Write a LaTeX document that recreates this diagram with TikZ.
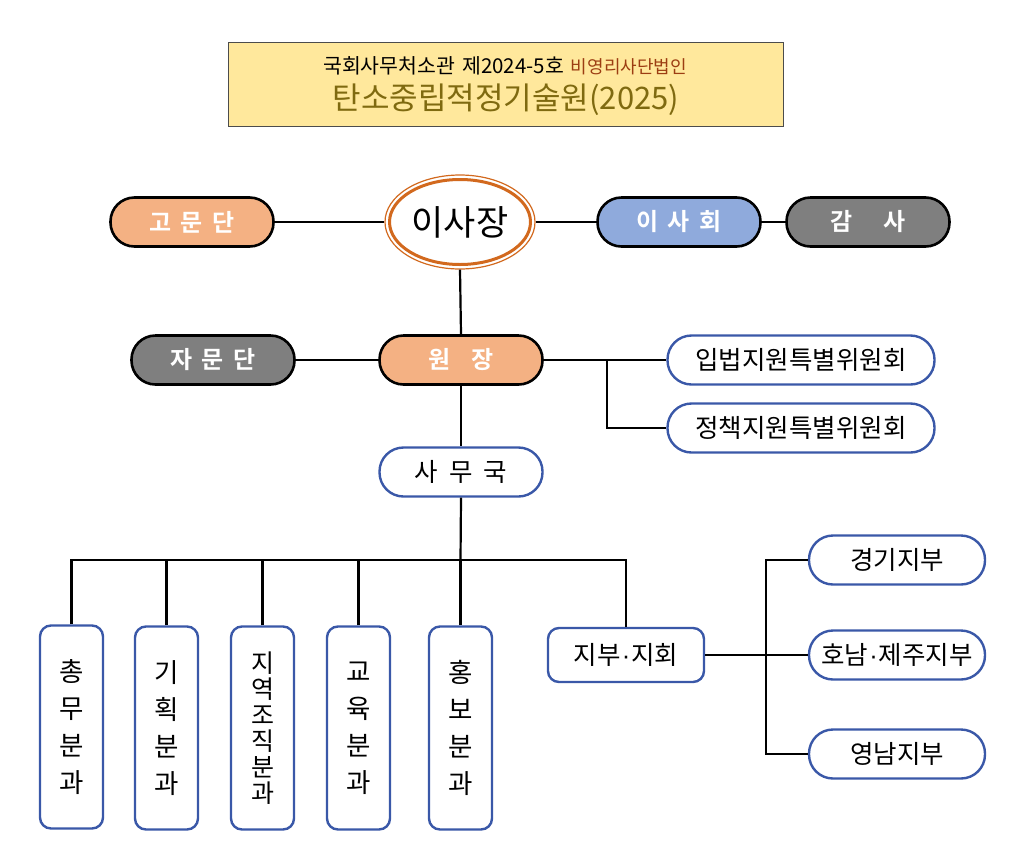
\documentclass[tikz,border=0pt]{standalone}
\usepackage{fontspec}
\setmainfont{Noto Sans CJK KR}[BoldFont={Noto Sans CJK KR Bold}]
\newfontfamily\dotfont{Liberation Sans}
\usetikzlibrary{positioning,shapes.geometric}
\definecolor{bluebd}{HTML}{3A58A8}
\definecolor{orfill}{HTML}{F4B183}
\definecolor{grfill}{HTML}{7F7F7F}
\definecolor{blfill}{HTML}{8FAADC}
\definecolor{orline}{HTML}{D2691E}
\definecolor{ttlfill}{HTML}{FFE89C}
\definecolor{ttlred}{HTML}{9C3D12}
\definecolor{ttlolive}{HTML}{7F6A10}
\newcommand{\mdot}{{\dotfont\kern1pt·\kern1pt}}
\tikzset{
  pillbox/.style={draw=black, line width=2.6pt, rounded corners=24pt, minimum width=163pt, minimum height=49pt, inner sep=0pt, text=white, font=\fontsize{24}{28}\selectfont\bfseries},
  bluepill/.style={draw=bluebd, line width=2.4pt, fill=white, rounded corners=24pt, minimum height=49pt, inner sep=0pt, font=\fontsize{25.5}{28}\selectfont},
  vbox/.style={draw=bluebd, line width=2.4pt, fill=white, rounded corners=11pt, minimum width=63pt, minimum height=203pt, inner sep=0pt, align=center, font=\fontsize{26.5}{37}\selectfont},
  conn/.style={line width=2.2pt, black}
}
\begin{document}
\begin{tikzpicture}[x=1pt,y=-1pt]
\useasboundingbox (0,0) rectangle (1024,841);
% title
\node[draw=black!70, line width=1pt, fill=ttlfill, minimum width=555pt, minimum height=84pt, inner sep=0pt] (title) at (505.5,84) {};
\node[font=\fontsize{20.5}{22}\selectfont, inner sep=0pt] (t1) at (505,66) {국회사무처소관\hspace{7pt}제2024-5호\hspace{7pt}{\color{ttlred}\fontsize{18}{20}\selectfont 비영리사단법인}};
\node[font=\fontsize{31}{34}\selectfont, text=ttlolive, inner sep=0pt] (t2) at (506,100) {탄소중립적정기술원(2025)};

% chairman ellipse
\node[ellipse, draw=orline, line width=1.2pt, minimum width=150pt, minimum height=94pt, inner sep=0pt] (boss) at (460,222) {};
\node[ellipse, draw=orline, line width=3pt, minimum width=141pt, minimum height=85pt, inner sep=0pt, font=\fontsize{35}{40}\selectfont] (bossin) at (460,222) {이사장};

\node[pillbox, fill=orfill] (gomun) at (192,222) {고\hspace{9pt}문\hspace{9pt}단};
\node[pillbox, fill=blfill] (isa) at (679,222) {이\hspace{9pt}사\hspace{9pt}회};
\node[pillbox, fill=grfill] (gamsa) at (868,222) {감\hspace{30pt}사};

\node[pillbox, fill=grfill] (jamun) at (213,360) {자\hspace{9pt}문\hspace{9pt}단};
\node[pillbox, fill=orfill] (won) at (461,360) {원\hspace{21pt}장};

\node[bluepill, minimum width=267pt] (ipbeop) at (801,360) {입법지원특별위원회};
\node[bluepill, minimum width=267pt] (jeong) at (801,428) {정책지원특별위원회};

\node[bluepill, minimum width=163pt] (samu) at (461,472) {사\hspace{11pt}무\hspace{11pt}국};

% bottom vertical boxes
\node[vbox] (b1) at (71.5,727) {총\\무\\분\\과};
\node[vbox] (b2) at (166.5,728) {기\\획\\분\\과};
\node[vbox, font=\fontsize{25}{26}\selectfont] (b3) at (262.5,728) {지\\역\\조\\직\\분\\과};
\node[vbox] (b4) at (358.5,728) {교\\육\\분\\과};
\node[vbox] (b5) at (460.5,728) {홍\\보\\분\\과};

\node[draw=bluebd, line width=2.4pt, fill=white, rounded corners=11pt, minimum width=156pt, minimum height=54pt, inner sep=0pt, font=\fontsize{25.5}{28}\selectfont] (jibu) at (626,655) {지부\mdot 지회};

\node[bluepill, minimum width=176pt] (gg) at (897,560) {경기지부};
\node[bluepill, minimum width=176pt] (hn) at (897,655) {호남\mdot 제주지부};
\node[bluepill, minimum width=176pt] (yn) at (897,754) {영남지부};

% connectors
\draw[conn] (gomun.east) -- (boss.west);
\draw[conn] (boss.east) -- (isa.west);
\draw[conn] (isa.east) -- (gamsa.west);
\draw[conn] (boss.south) -- (won.north);
\draw[conn] (jamun.east) -- (won.west);
\draw[conn] (won.east) -- (ipbeop.west);
\coordinate (br1) at (607,360);
\draw[conn] (br1) |- (jeong.west);
\draw[conn] (won.south) -- (samu.north);
\coordinate (bar) at (460.5,560);
\draw[conn] (samu.south) -- (bar);
\draw[conn] (b1.north) -- (71.5,560) -- (626,560) -- (jibu.north);
\draw[conn] (b2.north) -- (166.5,560);
\draw[conn] (b3.north) -- (262.5,560);
\draw[conn] (b4.north) -- (358.5,560);
\draw[conn] (b5.north) -- (bar);
\draw[conn] (jibu.east) -- (hn.west);
\coordinate (br2) at (766,655);
\draw[conn] (gg.west) -| (br2);
\draw[conn] (yn.west) -| (br2);
\end{tikzpicture}
\end{document}
